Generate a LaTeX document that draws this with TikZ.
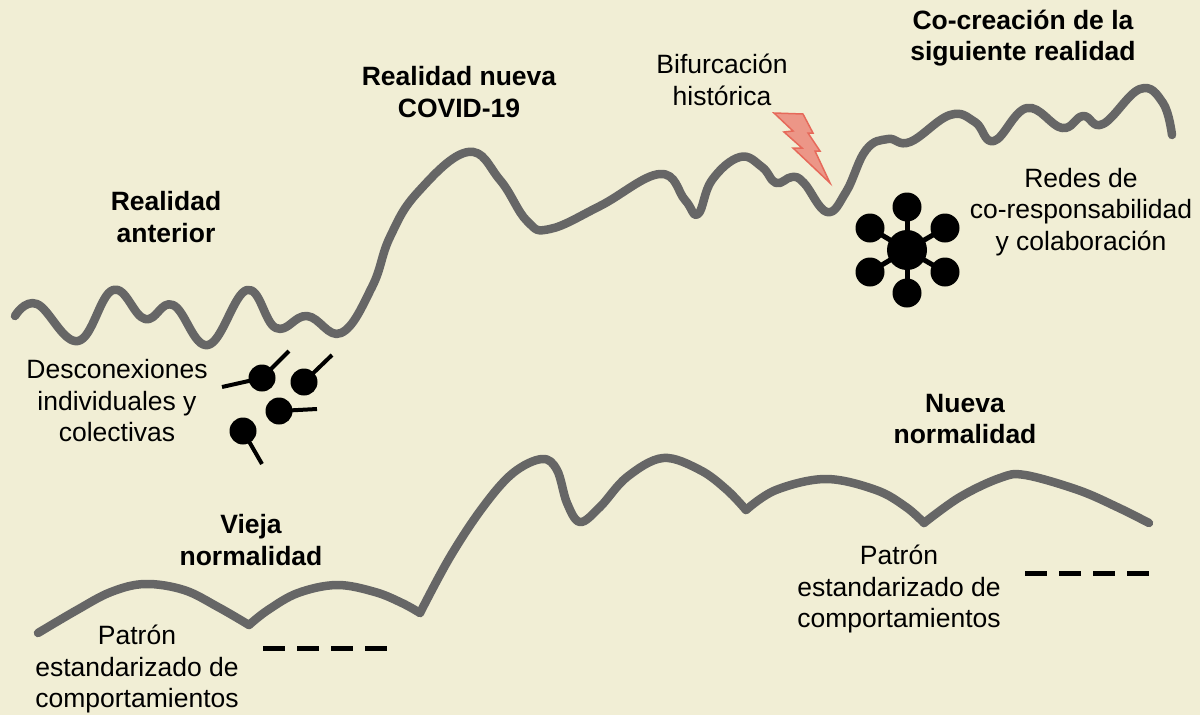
\documentclass[tikz,border=0pt]{standalone}
\usepackage{fontspec}
\setmainfont{Liberation Sans}
\definecolor{bgbeige}{RGB}{241,238,213}
\definecolor{curvegray}{RGB}{102,102,102}
\definecolor{boltfill}{RGB}{236,150,135}
\definecolor{boltdraw}{RGB}{230,105,90}
\begin{document}
\begin{tikzpicture}[x=1pt,y=-1pt,
  curveline/.style={draw=curvegray, line width=8.5pt, line cap=round, line join=round},
  lbl/.style={align=center, inner sep=0pt, font=\fontsize{26.5}{31.5}\selectfont},
  ttl/.style={align=center, inner sep=0pt, font=\fontsize{26.5}{31.5}\selectfont\bfseries},
  dotpin/.style={circle, fill=black, minimum size=27pt, inner sep=0pt},
  pinline/.style={line width=4pt, black},
  hub/.style={circle, fill=black, minimum size=40pt, inner sep=0pt},
  sat/.style={circle, fill=black, minimum size=29pt, inner sep=0pt},
  spoke/.style={line width=5pt, black},
  dashline/.style={line width=5pt, black, dash pattern=on 22pt off 12pt},
  bolt/.style={fill=boltfill, draw=boltdraw, line width=1.5pt, line join=miter}]
\useasboundingbox (0,0) rectangle (1200,715);
\fill[bgbeige] (0,0) rectangle (1200,715);

% upper curve
\draw[curveline] plot[smooth, tension=0.7] coordinates {
 (15,316) (37,304) (78,341) (113,290) (145,319) (173,305) (208,345)
 (247,290) (276,328) (307,316) (341,333) (372,287) (390,237) (418,192)
 (468,152) (500,180) (527,221) (550,229) (600,206) (660,174) (685,200)
 (698,214) (712,180) (740,157) (762,167) (776,183) (792,177) (804,183)
 (827,212) (846,192) (866,150) (888,139) (910,142) (950,115) (975,122)
 (994,141) (1027,108) (1062,128) (1083,116) (1103,124) (1140,89)
 (1163,103) (1172,135)};

% lower curve
\draw[curveline] plot[smooth, tension=0.6] coordinates {
 (38,633) (77,610) (111,592) (145,584) (184,590) (218,607) (249,625)};
\draw[curveline] plot[smooth, tension=0.6] coordinates {
 (249,625) (268,610) (298,593) (337,585) (375,592) (402,603) (420,613)};
\draw[curveline] plot[smooth, tension=0.6] coordinates {
 (420,613) (450,557) (483,507) (513,473) (542,459) (557,470) (567,503)
 (580,522) (600,507) (627,477) (663,458) (700,470) (727,490) (746,510)};
\draw[curveline] plot[smooth, tension=0.6] coordinates {
 (746,510) (776,490) (826,479) (876,490) (906,507) (924,523)};
\draw[curveline] plot[smooth, tension=0.6] coordinates {
 (924,523) (960,497) (1000,478) (1025,475) (1078,490) (1117,507) (1149,523)};

% lightning bolt
\draw[bolt] (774,113) -- (803,114) -- (813,133) -- (808,133) -- (820,151)
  -- (815,151) -- (830,183) -- (793,148) -- (802,148) -- (784,132)
  -- (793,131) -- cycle;

% disconnected pins
\coordinate (p1a) at (222,387);
\coordinate (p1b) at (289,351);
\coordinate (p2a) at (332,355);
\coordinate (p3a) at (317,409);
\coordinate (p4a) at (262,464);
\node[dotpin] (p1) at (262,378) {};
\node[dotpin] (p2) at (304,382) {};
\node[dotpin] (p3) at (279,411) {};
\node[dotpin] (p4) at (243,431) {};
\draw[pinline] (p1.center) -- (p1a);
\draw[pinline] (p1.center) -- (p1b);
\draw[pinline] (p2.center) -- (p2a);
\draw[pinline] (p3.center) -- (p3a);
\draw[pinline] (p4.center) -- (p4a);

% network
\node[hub] (h) at (907,250) {};
\node[sat] (s1) at (907,207) {};
\node[sat] (s2) at (870,228) {};
\node[sat] (s3) at (945,228) {};
\node[sat] (s4) at (870,272) {};
\node[sat] (s5) at (945,272) {};
\node[sat] (s6) at (907,293) {};
\foreach \s in {s1,s2,s3,s4,s5,s6} \draw[spoke] (h.center) -- (\s.center);

% dashed patterns
\coordinate (d1a) at (263,648);
\coordinate (d1b) at (388,648);
\coordinate (d2a) at (1025,573);
\coordinate (d2b) at (1149,573);
\draw[dashline] (d1a) -- (d1b);
\draw[dashline] (d2a) -- (d2b);

% texts
\node[ttl] (t1) at (166,217) {Realidad\\anterior};
\node[lbl] (t2) at (117,401) {Desconexiones\\individuales y\\colectivas};
\node[ttl] (t3) at (459,92) {Realidad nueva\\COVID-19};
\node[lbl] (t4) at (722,80) {Bifurcación\\histórica};
\node[ttl] (t5) at (1023,38) {Co-creación de la\\siguiente realidad};
\node[lbl] (t6) at (1081,212) {Redes de\\co-responsabilidad\\y colaboración};
\node[ttl] (t7) at (965,419) {Nueva\\normalidad};
\node[ttl] (t8) at (251,540) {Vieja\\normalidad};
\node[lbl] (t9) at (137,669) {Patrón\\estandarizado de\\comportamientos};
\node[lbl] (t10) at (899,589) {Patrón\\estandarizado de\\comportamientos};
\end{tikzpicture}
\end{document}
